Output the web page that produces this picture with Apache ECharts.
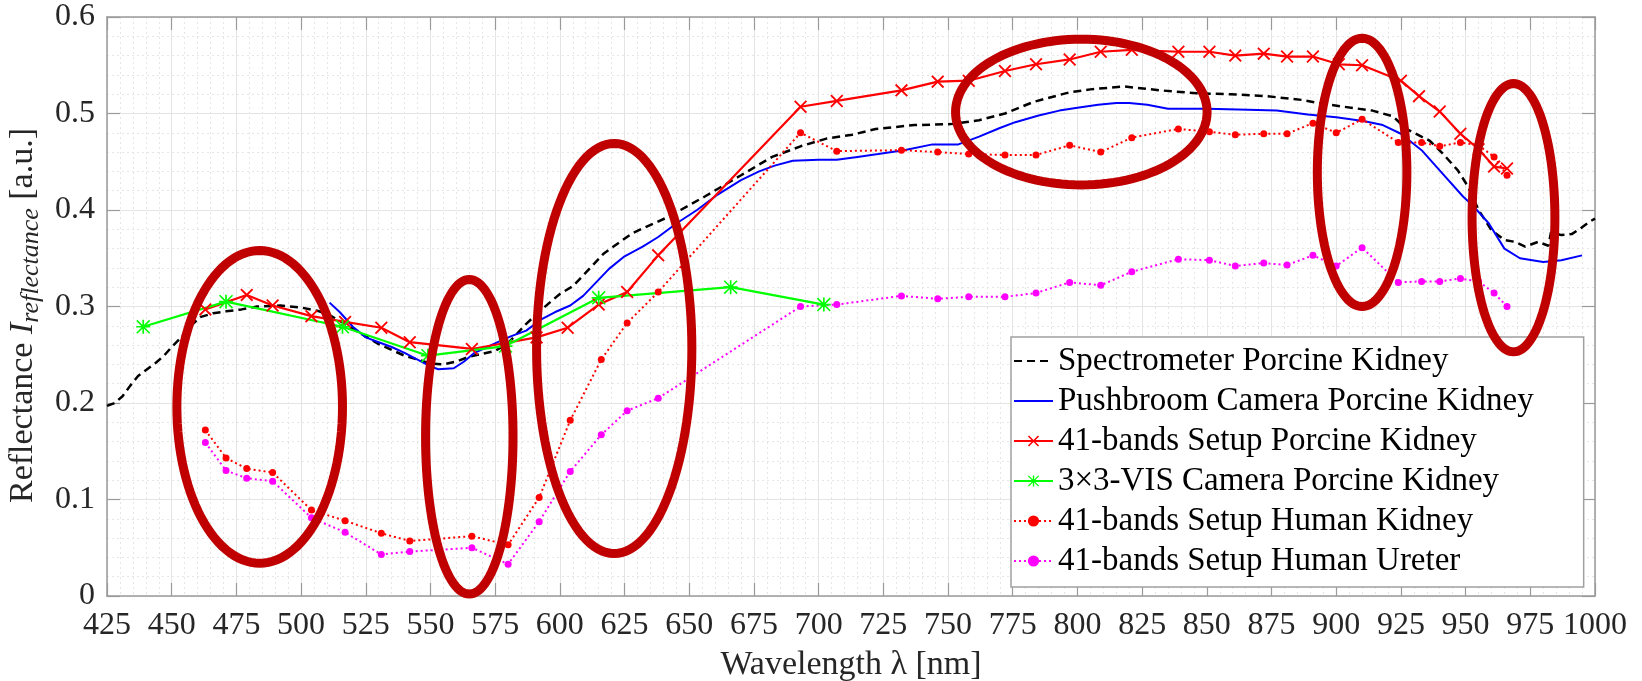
<!DOCTYPE html>
<html><head><meta charset="utf-8">
<script src="https://cdn.jsdelivr.net/npm/echarts@6/dist/echarts.min.js"></script>
<style>html,body{margin:0;padding:0;background:#fff}#c{width:1642px;height:681px}</style>
</head><body><div id="c"></div><script>
// ---- data ----
const spectroWl = [425,428,431,434,437,440,444,447,450,454,457,461,466,471,477,483,492,500,507,511,515,520,525,530,535,540,545,550,555,560,565,570,575,580,587,593,600,605,610,617,628,642,656,670,682,693,703,713,722,737,751,762,772,783,797,805,818,832,846,859,873,887,895,903,914,922,927,936,941,947,951,955,960,965,969,973,978,982,983,987,991,995,998,1000];
const spectroVal = [0.197,0.200,0.207,0.218,0.228,0.234,0.242,0.249,0.258,0.269,0.279,0.289,0.293,0.295,0.297,0.300,0.301,0.299,0.295,0.291,0.285,0.277,0.269,0.261,0.255,0.249,0.245,0.241,0.240,0.243,0.248,0.251,0.254,0.262,0.282,0.297,0.313,0.321,0.335,0.355,0.376,0.393,0.414,0.436,0.455,0.466,0.474,0.478,0.484,0.488,0.489,0.493,0.500,0.512,0.522,0.525,0.528,0.524,0.521,0.520,0.518,0.514,0.510,0.507,0.503,0.497,0.484,0.472,0.459,0.441,0.424,0.400,0.379,0.369,0.367,0.362,0.367,0.363,0.377,0.374,0.375,0.382,0.388,0.391];

const pushWl = [511,515,520,525,530,535,540,545,550,553,559,563,567,572,576,581,587,593,598,604,609,614,619,625,632,638,645,653,661,670,677,683,690,700,707,715,723,733,744,754,762,770,776,785,793,800,808,815,820,827,835,850,866,877,889,900,911,918,925,933,941,949,953,959,965,971,980,987,995];
const pushVal = [0.304,0.294,0.279,0.268,0.263,0.258,0.252,0.245,0.238,0.235,0.236,0.243,0.252,0.258,0.263,0.269,0.275,0.287,0.294,0.301,0.311,0.325,0.339,0.352,0.362,0.372,0.386,0.400,0.416,0.431,0.440,0.446,0.451,0.452,0.452,0.455,0.458,0.462,0.468,0.468,0.476,0.485,0.491,0.498,0.503,0.506,0.509,0.511,0.511,0.509,0.505,0.505,0.504,0.503,0.499,0.496,0.492,0.488,0.479,0.462,0.438,0.414,0.404,0.386,0.360,0.350,0.346,0.348,0.353];

const bandsPorcineWl = [463,479,489,504,517,531,542,566,591,603,615,626,638,693,707,732,746,758,772,784,797,809,821,839,851,861,872,881,891,901,910,925,932,940,948,955,961,966];
const bandsPorcineVal = [0.297,0.312,0.301,0.290,0.284,0.278,0.263,0.256,0.268,0.278,0.302,0.315,0.353,0.507,0.513,0.524,0.533,0.534,0.544,0.551,0.556,0.564,0.566,0.564,0.564,0.560,0.562,0.559,0.559,0.551,0.550,0.534,0.518,0.502,0.479,0.463,0.445,0.443];

const visWl = [439,471,516,549,579,615,666,702];
const visVal = [0.279,0.305,0.279,0.249,0.259,0.309,0.320,0.302];

const humanWl = [463,471,479,489,504,517,531,542,566,580,592,604,616,626,638,693,707,732,746,758,772,784,797,809,821,839,851,861,872,881,891,900,910,924,933,940,948,955,961,966];
const humanKidneyVal = [0.172,0.143,0.132,0.128,0.089,0.078,0.065,0.057,0.062,0.053,0.102,0.182,0.245,0.283,0.315,0.480,0.461,0.462,0.460,0.458,0.457,0.457,0.467,0.460,0.475,0.484,0.481,0.478,0.479,0.479,0.490,0.480,0.494,0.470,0.470,0.466,0.470,0.467,0.455,0.436];
const humanUreterVal = [0.159,0.130,0.122,0.119,0.081,0.066,0.043,0.046,0.050,0.033,0.077,0.129,0.167,0.192,0.205,0.300,0.302,0.311,0.308,0.310,0.310,0.314,0.325,0.322,0.336,0.349,0.348,0.342,0.345,0.343,0.353,0.342,0.361,0.325,0.326,0.326,0.329,0.326,0.314,0.300];

// annotation ellipses: centre wavelength, centre value, half-width (nm), half-height (a.u.)
const ellipseCx = [484, 565, 621, 801.5, 910, 968.5];
const ellipseCy = [0.196, 0.165, 0.2565, 0.5015, 0.439, 0.392];
const ellipseRx = [32, 16.9, 30, 48.6, 17.3, 16];
const ellipseRy = [0.162, 0.163, 0.2125, 0.0755, 0.139, 0.139];

const yTickLabels = ['0','0.1','0.2','0.3','0.4','0.5','0.6'];
const seriesNames = ['Spectrometer Porcine Kidney','Pushbroom Camera Porcine Kidney','41-bands Setup Porcine Kidney','3\u00d73-VIS Camera Porcine Kidney','41-bands Setup Human Kidney','41-bands Setup Human Ureter'];

// ---- chart ----
const zip = (a, b) => a.map((x, i) => [x, b[i]]);
const FONT = '"Liberation Serif", "Times New Roman", serif';
const X_SYMBOL = 'path://M0,1 L1,0 L5,4 L9,0 L10,1 L6,5 L10,9 L9,10 L5,6 L1,10 L0,9 L4,5 Z';
const STAR_SYMBOL = 'path://M4.4,0 h1.2 v10 h-1.2 Z M0,4.4 h10 v1.2 h-10 Z M0.8,0 L10,9.2 L9.2,10 L0,0.8 Z M9.2,0 L10,0.8 L0.8,10 L0,9.2 Z';
const AXC = '#9a9a9a';
const chart = echarts.init(document.getElementById('c'), null, {renderer: 'canvas'});

const baseX = {
  type: 'value', min: 425, max: 1000, interval: 25,
  axisLine: {show: true, onZero: false, lineStyle: {color: AXC, width: 1.5}},
  axisTick: {show: true, inside: true, length: 13, lineStyle: {color: AXC, width: 1.2}},
};
const baseY = {
  type: 'value', min: 0, max: 0.6, interval: 0.1,
  axisLine: {show: true, onZero: false, lineStyle: {color: AXC, width: 1.5}},
  axisTick: {show: true, inside: true, length: 13, lineStyle: {color: AXC, width: 1.2}},
};

const option = {
  animation: false,
  backgroundColor: '#fff',
  textStyle: {fontFamily: FONT},
  grid: {left: 107, right: 47, top: 17, bottom: 85, containLabel: false, outerBoundsMode: 'none'},
  xAxis: [
    Object.assign({}, baseX, {
      position: 'bottom',
      name: 'Wavelength \u03bb [nm]', nameLocation: 'middle', nameGap: 52,
      nameTextStyle: {fontFamily: FONT, fontSize: 34, color: '#262626'},
      axisLabel: {show: true, margin: 14, fontFamily: FONT, fontSize: 32, color: '#262626',
        formatter: (v) => String(v)},
      splitLine: {show: true, lineStyle: {color: '#e4e4e4', width: 1}},
      minorTick: {show: false, splitNumber: 5},
      minorSplitLine: {show: true, lineStyle: {color: '#e6e6e6', width: 1, type: [2, 3]}}
    }),
    Object.assign({}, baseX, {position: 'top', axisLabel: {show: false}, splitLine: {show: false}})
  ],
  yAxis: [
    Object.assign({}, baseY, {
      position: 'left',
      name: '{a|Reflectance }{i|I}{s|reflectance}{a| [a.u.]}', nameLocation: 'middle', nameGap: 40,
      nameRotate: 90,
      nameTextStyle: {
        color: '#262626', fontFamily: FONT, padding: [0, 18, 0, 0],
        rich: {
          a: {fontFamily: FONT, fontSize: 34, color: '#262626', lineHeight: 42},
          i: {fontFamily: FONT, fontSize: 34, fontStyle: 'italic', color: '#262626', lineHeight: 42},
          s: {fontFamily: FONT, fontSize: 26, fontStyle: 'italic', color: '#262626', lineHeight: 24, verticalAlign: 'bottom'}
        }
      },
      axisLabel: {show: true, margin: 12, fontFamily: FONT, fontSize: 32, color: '#262626',
        formatter: (v) => yTickLabels[Math.round(v * 10)]},
      splitLine: {show: true, lineStyle: {color: '#e4e4e4', width: 1}},
      minorTick: {show: false, splitNumber: 5},
      minorSplitLine: {show: true, lineStyle: {color: '#e6e6e6', width: 1, type: [2, 3]}}
    }),
    Object.assign({}, baseY, {position: 'right', axisLabel: {show: false}, splitLine: {show: false}})
  ],
  legend: {
    show: true, orient: 'vertical', left: 1011, top: 337,
    data: seriesNames.map((n, i) => i < 2 ? {name: n, itemStyle: {opacity: 0}} : {name: n}),
    backgroundColor: '#fff', borderColor: '#a0a0a0', borderWidth: 1.5,
    padding: [4, 50, 6, 2],
    itemWidth: 39, itemHeight: 14, itemGap: 0,
    textStyle: {fontFamily: FONT, fontSize: 33, color: '#000', lineHeight: 40},
    selectedMode: false, z: 3
  },
  series: [
    {name: seriesNames[0], type: 'line', data: zip(spectroWl, spectroVal), showSymbol: false, symbol: 'none',
     lineStyle: {color: '#000', width: 2.5, type: [8, 5]}, itemStyle: {color: '#000'}, z: 2},
    {name: seriesNames[1], type: 'line', data: zip(pushWl, pushVal), showSymbol: false, symbol: 'none',
     lineStyle: {color: '#0000ff', width: 2}, itemStyle: {color: '#0000ff'}, z: 2},
    {name: seriesNames[2], type: 'line', data: zip(bandsPorcineWl, bandsPorcineVal), symbol: X_SYMBOL, symbolSize: 13,
     lineStyle: {color: '#ff0000', width: 2.2}, itemStyle: {color: '#ff0000'}, z: 3},
    {name: seriesNames[3], type: 'line', data: zip(visWl, visVal), symbol: STAR_SYMBOL, symbolSize: 14,
     lineStyle: {color: '#00ff00', width: 2.2}, itemStyle: {color: '#00ff00'}, z: 3},
    {name: seriesNames[4], type: 'line', data: zip(humanWl, humanKidneyVal), symbol: 'circle', symbolSize: 7,
     lineStyle: {color: '#ff0000', width: 2, type: [2, 3]}, itemStyle: {color: '#ff0000'}, z: 3},
    {name: seriesNames[5], type: 'line', data: zip(humanWl, humanUreterVal), symbol: 'circle', symbolSize: 7,
     lineStyle: {color: '#ff00ff', width: 2, type: [2, 3]}, itemStyle: {color: '#ff00ff'}, z: 3},
    {
      name: 'annotations', type: 'custom', z: 10,
      data: ellipseCx.map((c, i) => [c, ellipseCy[i], ellipseRx[i], ellipseRy[i]]),
      encode: {x: 0, y: 1},
      renderItem: function (params, api) {
        const c = api.coord([api.value(0), api.value(1)]);
        const s = api.size([api.value(2), api.value(3)]);
        const pts = [];
        for (let k = 0; k < 120; k++) {
          const t = k / 120 * Math.PI * 2;
          pts.push([c[0] + s[0] * Math.cos(t), c[1] + s[1] * Math.sin(t)]);
        }
        return {type: 'polygon', shape: {points: pts},
          style: {fill: 'none', stroke: '#c00000', lineWidth: 9}};
      },
      silent: true
    }
  ]
};
chart.setOption(option);
</script></body></html>
